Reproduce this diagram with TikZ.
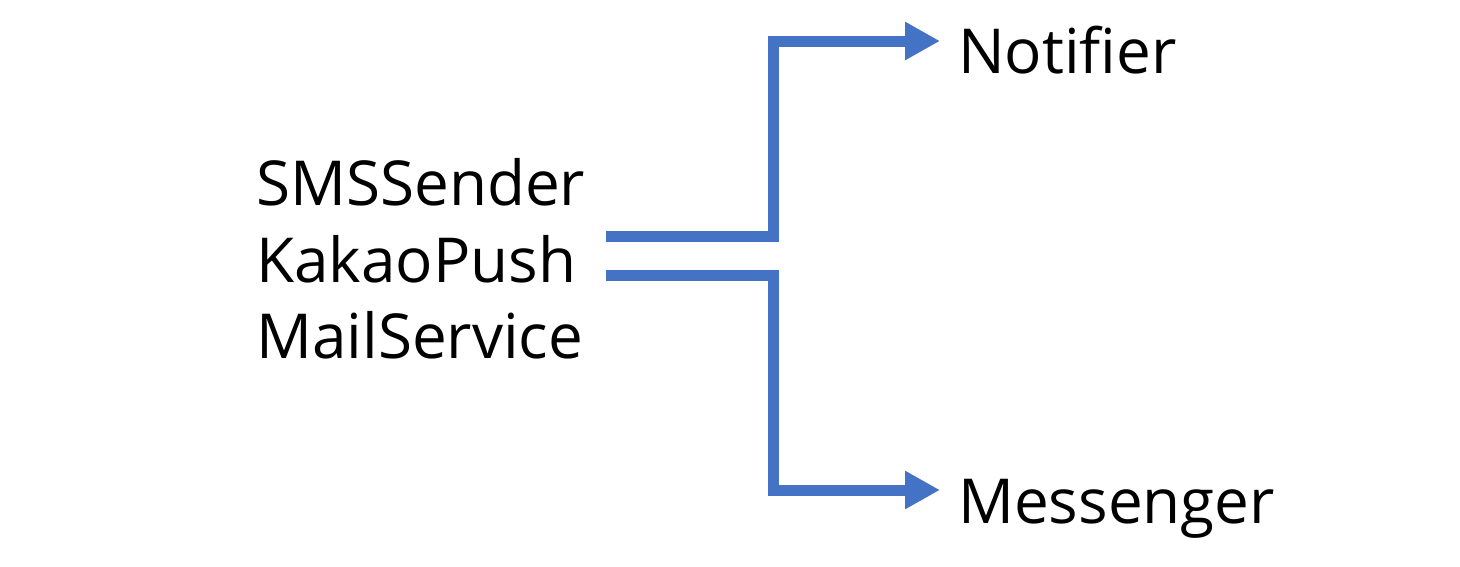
\documentclass[tikz,border=0pt]{standalone}
\usepackage{fontspec}
\setmainfont{Open Sans}
\usetikzlibrary{arrows.meta}
\definecolor{linkblue}{RGB}{68,114,196}
\tikzset{
  label/.style={anchor=base west, inner sep=0pt, font=\fontsize{62}{74}\selectfont},
  link/.style={linkblue, line width=11pt,
    -{Triangle[length=35pt, width=36pt]}}
}
\begin{document}
\begin{tikzpicture}[x=1pt, y=-1pt]
        \useasboundingbox (0,0) rectangle (1460,566);

        % Nodes
        \foreach \n/\y/\t in {sms/205/SMSSender, kakao/282/KakaoPush, mail/358/MailService}
            \node[label] (\n) at (256,\y) {\t};
        \node[label] (notifier) at (958,73) {Notifier};
        \node[label] (messenger) at (958,523) {Messenger};

        \coordinate (up) at (606,236);
        \coordinate (down) at (606,275);
        \coordinate (bend) at (773,0);
        \coordinate (notiftip) at (940,41);
        \coordinate (msgtip) at (940,490);

        % Edges
        \draw[link] (up) -| (bend |- notiftip) -- (notiftip);
        \draw[link] (down) -| (bend |- msgtip) -- (msgtip);
    \end{tikzpicture}
\end{document}
